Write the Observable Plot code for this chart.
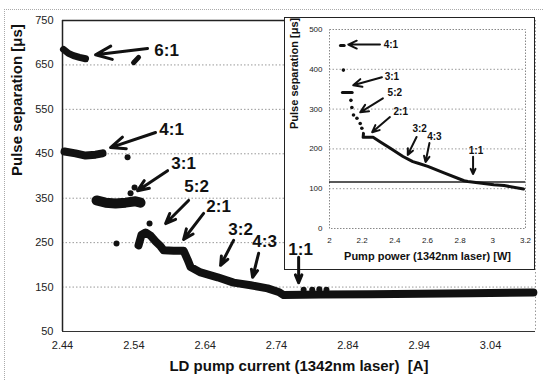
<!DOCTYPE html>
<html><head><meta charset="utf-8">
<script src="https://cdn.jsdelivr.net/npm/d3@7"></script>
<script src="https://cdn.jsdelivr.net/npm/@observablehq/plot@0.6"></script>
<style>
body{margin:0;background:#fff;}
#wrap{position:relative;width:544px;height:380px;overflow:hidden;font-family:"Liberation Sans",Arial,sans-serif;background:#fff;}
#outer{position:absolute;left:4px;top:9px;width:600px;height:420px;border-left:1px dotted #aaa;border-top:1px dotted #aaa;}
.layer{position:absolute;left:0;top:0;}
#inset{position:absolute;left:284px;top:17px;width:249px;height:251px;border:1.5px solid #222;background:#fff;}
#inset svg{display:block;}
</style></head><body>
<div id="wrap"><div id="outer"></div><div id="mainL" class="layer"></div><div id="inset"></div><div id="annoL" class="layer"></div></div>
<script>
// ---------- main chart data ----------
const xTicks = [2.44, 2.54, 2.64, 2.74, 2.84, 2.94, 3.04];
const yTicks = [50, 150, 250, 350, 450, 550, 650, 750];
const xLabel = "LD pump current (1342nm laser)\u00a0 [A]";
const yLabel = "Pulse separation [\u03bcs]";

const band61 = [[2.4414,685],[2.4484,676],[2.4554,671],[2.4638,667],[2.4723,664]];
const stray61 = [[2.5396,655],[2.5466,667]];
const band41 = [[2.4428,455],[2.4582,451],[2.4723,446],[2.4863,448],[2.4961,451]];
const band31 = [[2.4877,345],[2.5003,340],[2.5143,338],[2.5284,340],[2.5424,343],[2.5494,340]];
const mainCurve = [[2.5466,244],[2.5508,268],[2.5564,273],[2.5634,266],[2.5704,253],[2.5774,242],[2.5817,233],[2.5957,232],[2.6097,232],[2.6153,212],[2.6195,195],[2.6335,183],[2.6574,172],[2.6798,160],[2.7037,154],[2.7275,147],[2.7429,139],[2.75,132],[2.8019,133],[2.872,134],[2.942,135],[3.012,136],[3.1,138]];
const strayDots = [[2.5312,442],[2.5354,361],[2.541,374],[2.5157,248],[2.562,293],[2.778,144],[2.79,144],[2.80,145],[2.81,144]];

// main annotations
const mainLabels = ["6:1","4:1","3:1","5:2","2:1","3:2","4:3","1:1"];
const mainLabelX = [2.5859,2.5929,2.6097,2.6279,2.6588,2.6897,2.7233,2.7738];
const mainLabelY = [682,505,428,376,331,280,253,235];
const mainTailX = [2.5592,2.5704,2.5873,2.6167,2.6378,2.6798,2.7149,2.771];
const mainTailY = [687,498,412,345,316,255,226,217];
const mainHeadX = [2.4863,2.5073,2.5452,2.5845,2.6097,2.6616,2.7065,2.771];
const mainHeadY = [673,464,367,293,257,199,172,160];

// ---------- inset data ----------
const insetXTicks = [2, 2.2, 2.4, 2.6, 2.8, 3, 3.2];
const insetYTicks = [0, 100, 200, 300, 400, 500];
const insetXLabel = "Pump power (1342nm laser) [W]";
const insetFlat = 117;
const inset41 = [[2.067,460],[2.09,460]];
const inset31 = [[2.079,342],[2.139,342]];
const insetDots = [[2.085,398],[2.131,322],[2.137,304],[2.147,285],[2.168,277],[2.188,264],[2.198,252]];
const insetCurve = [[2.208,239],[2.206,229],[2.267,229],[2.309,218],[2.37,202],[2.45,181],[2.51,168],[2.543,164],[2.602,156],[2.705,139],[2.824,120],[2.847,118],[3.006,110],[3.069,108],[3.188,99]];

const insetLabels = ["4:1","3:1","5:2","2:1","3:2","4:3","1:1"];
const insetLabelX = [2.376,2.382,2.40,2.436,2.552,2.642,2.897];
const insetLabelY = [462,382,342,292,250,230,195];
const insetTailX = [2.309,2.321,2.327,2.37,2.533,2.612,2.879];
const insetTailY = [462,380,327,280,230,215,180];
const insetHeadX = [2.115,2.145,2.188,2.261,2.479,2.588,2.879];
const insetHeadY = [462,360,292,242,185,167,137];

const font = "Liberation Sans, Arial, Helvetica, sans-serif";
const ink = "#111";
const xDom = [2.44, 3.103];
const yDom = [50, 750];
const M = {width:544, height:380, marginLeft:62, marginTop:20, marginRight:9, marginBottom:49};

const bandStyle = w => ({stroke: ink, strokeWidth: w, strokeLinecap: "round", strokeLinejoin: "round"});

const main = Plot.plot({
  ...M,
  style: {fontFamily: font, fontSize: "11px", background: "transparent", color: "#222"},
  x: {domain: xDom, ticks: xTicks, tickFormat: d3.format(".2f"), tickSize: 0, tickPadding: 10, label: null},
  y: {domain: yDom, ticks: yTicks, tickSize: 0, tickPadding: 9, label: null},
  marks: [
    Plot.ruleY(yTicks.filter(v => v > 50 && v < 750), {stroke: "#999", strokeDasharray: "1.5,2"}),
    Plot.ruleX([xDom[1]], {stroke: "#999", strokeDasharray: "1.5,2"}),
    Plot.ruleY([750], {stroke: "#222", strokeWidth: 1.5}),
    Plot.ruleY([50], {stroke: "#333", strokeWidth: 1.2}),
    Plot.ruleX([xDom[0]], {stroke: "#222", strokeWidth: 1.5}),
    Plot.line(band61, bandStyle(7)),
    Plot.line(stray61, bandStyle(5)),
    Plot.line(band41, bandStyle(8)),
    Plot.line(band31, bandStyle(10)),
    Plot.line(mainCurve, bandStyle(8)),
    Plot.dot(strayDots, {r: 3, fill: ink, stroke: null}),
    Plot.text([xLabel], {frameAnchor: "bottom", dy: 39, fontWeight: "bold", fontSize: 15, fill: ink}),
    Plot.text([yLabel], {frameAnchor: "left", dx: -45, rotate: -90, fontWeight: "bold", fontSize: 15, fill: ink})
  ]
});
document.getElementById("mainL").appendChild(main);

const insetRows = insetLabels.map((t, i) => ({t, lx: insetLabelX[i], ly: insetLabelY[i], x1: insetTailX[i], y1: insetTailY[i], x2: insetHeadX[i], y2: insetHeadY[i]}));
const inset = Plot.plot({
  width: 249, height: 251, marginLeft: 44, marginTop: 11, marginRight: 9, marginBottom: 41,
  style: {fontFamily: font, fontSize: "8px", background: "#fff", color: "#222"},
  x: {domain: [2, 3.2], ticks: insetXTicks, tickFormat: d => String(d), tickSize: 0, tickPadding: 9, label: null},
  y: {domain: [0, 500], ticks: insetYTicks, tickSize: 0, tickPadding: 7, label: null},
  marks: [
    Plot.ruleY(insetYTicks.filter(v => v > 0 && v < 500), {stroke: "#999", strokeDasharray: "1.5,2"}),
    Plot.frame({stroke: "#888", strokeDasharray: "1.5,1.5"}),
    Plot.ruleY([insetFlat], {stroke: "#222", strokeWidth: 1.5}),
    Plot.line(insetCurve, bandStyle(3)),
    Plot.line(inset41, bandStyle(3)),
    Plot.line(inset31, bandStyle(3)),
    Plot.dot(insetDots, {r: 1.8, fill: ink, stroke: null}),
    Plot.arrow(insetRows, {x1: "x1", y1: "y1", x2: "x2", y2: "y2", stroke: ink, strokeWidth: 2, headLength: 7, headAngle: 50}),
    Plot.text(insetRows, {x: "lx", y: "ly", text: "t", fontWeight: "bold", fontSize: 10, fill: ink}),
    Plot.text([insetXLabel], {frameAnchor: "bottom", dy: 31, fontWeight: "bold", fontSize: 11, fill: ink}),
    Plot.text([yLabel], {frameAnchor: "left", dx: -35, rotate: -90, fontWeight: "bold", fontSize: 11, fill: ink})
  ]
});
document.getElementById("inset").appendChild(inset);

const mainRows = mainLabels.map((t, i) => ({t, lx: mainLabelX[i], ly: mainLabelY[i], x1: mainTailX[i], y1: mainTailY[i], x2: mainHeadX[i], y2: mainHeadY[i]}));
const anno = Plot.plot({
  ...M,
  style: {fontFamily: font, background: "transparent"},
  x: {domain: xDom, axis: null},
  y: {domain: yDom, axis: null},
  marks: [
    Plot.arrow(mainRows, {x1: "x1", y1: "y1", x2: "x2", y2: "y2", stroke: ink, strokeWidth: 3, headLength: 13, headAngle: 45}),
    Plot.text(mainRows, {x: "lx", y: "ly", text: "t", fontWeight: "bold", fontSize: 17, fill: ink})
  ]
});
anno.style.pointerEvents = "none";
document.getElementById("annoL").appendChild(anno);
</script>
</body></html>
